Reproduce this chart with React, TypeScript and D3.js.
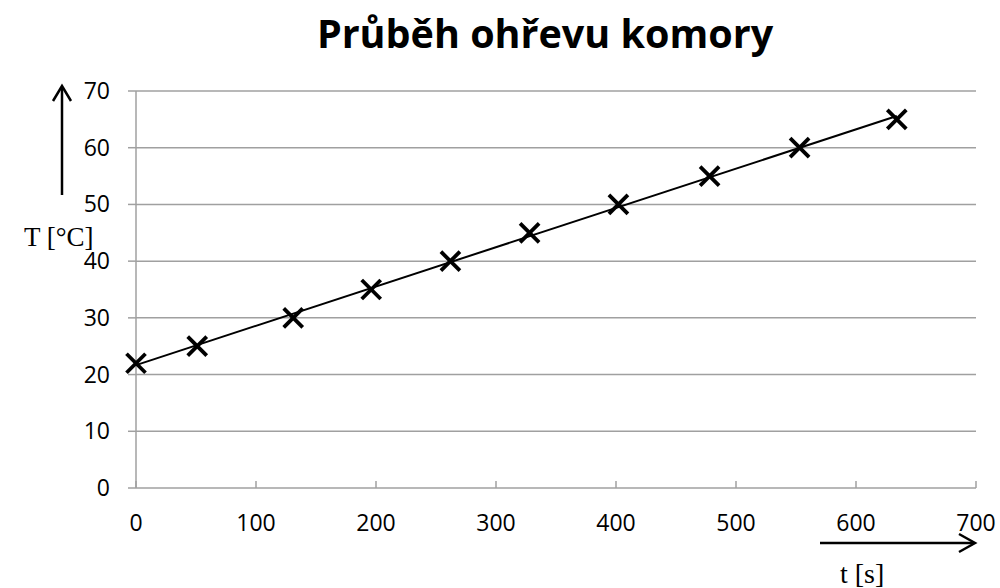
import React from "react";
import * as d3 from "d3";

const timeS = [0, 51, 131, 196, 262, 328, 402, 478, 553, 634];
const tempC = [22, 25, 30, 35, 40, 45, 50, 55, 60, 65];
const xTicks = [0, 100, 200, 300, 400, 500, 600, 700];
const yTicks = [0, 10, 20, 30, 40, 50, 60, 70];

export default function App() {
  const W = 1000, H = 588;
  const L = 136, R = 976, T = 91, B = 488;
  const x = d3.scaleLinear().domain([0, 700]).range([L, R]);
  const y = d3.scaleLinear().domain([0, 70]).range([B, T]);

  const n = timeS.length;
  const mx = d3.mean(timeS)!, my = d3.mean(tempC)!;
  let sxy = 0, sxx = 0;
  for (let i = 0; i < n; i++) { sxy += (timeS[i] - mx) * (tempC[i] - my); sxx += (timeS[i] - mx) ** 2; }
  const slope = sxy / sxx, icpt = my - slope * mx;
  const x0 = d3.min(timeS)!, x1 = d3.max(timeS)!;
  const trend = d3.line<number>().x(d => x(d)).y(d => y(icpt + slope * d))([x0, x1])!;

  const grid = "#a0a0a0";
  const lab = "'Open Sans', 'Liberation Sans', sans-serif";
  const s = 9.5;
  return (
    <svg width={W} height={H} style={{ position: "absolute", left: 0, top: 0, background: "#fff" }}>
      <text x={545} y={48} textAnchor="middle" fontFamily={lab} fontWeight="bold" fontSize={39.5} fill="#000">Průběh ohřevu komory</text>
      {yTicks.map(t => (
        <g key={t}>
          {t > 0 && <line x1={L} x2={R} y1={y(t)} y2={y(t)} stroke={grid} strokeWidth={1.5} />}
          <line x1={L - 8} x2={L} y1={y(t)} y2={y(t)} stroke={grid} strokeWidth={1.5} />
          <text x={110} y={y(t) + 8} textAnchor="end" fontFamily={lab} fontSize={23} fill="#000">{t}</text>
        </g>
      ))}
      <line x1={L} x2={R} y1={B} y2={B} stroke={grid} strokeWidth={1.5} />
      <line x1={L} x2={L} y1={T} y2={B} stroke={grid} strokeWidth={1.5} />
      {xTicks.map(t => (
        <g key={t}>
          <line x1={x(t)} x2={x(t)} y1={B - 7} y2={B} stroke={grid} strokeWidth={1.5} />
          <text x={x(t)} y={531} textAnchor="middle" fontFamily={lab} fontSize={23} fill="#000">{t}</text>
        </g>
      ))}
      <path d={trend} stroke="#000" strokeWidth={2} fill="none" />
      {timeS.map((t, i) => (
        <g key={i} stroke="#000" strokeWidth={3.8}>
          <line x1={x(t) - s} x2={x(t) + s} y1={y(tempC[i]) - s} y2={y(tempC[i]) + s} />
          <line x1={x(t) - s} x2={x(t) + s} y1={y(tempC[i]) + s} y2={y(tempC[i]) - s} />
        </g>
      ))}
      {/* y axis arrow */}
      <line x1={62} x2={62} y1={195} y2={87} stroke="#000" strokeWidth={2.5} />
      <polyline points="53,101 62,86 71,101" fill="none" stroke="#000" strokeWidth={2.5} />
      <text x={24} y={246} fontFamily="'Liberation Serif', 'Times New Roman', serif" fontSize={27} fill="#000">T [°C]</text>
      {/* x axis arrow */}
      <line x1={820} x2={974} y1={543} y2={543} stroke="#000" strokeWidth={2.5} />
      <polyline points="959,534 975,543 959,552" fill="none" stroke="#000" strokeWidth={2.5} />
      <text x={840} y={583} fontFamily="'Liberation Serif', 'Times New Roman', serif" fontSize={28} fill="#000">t [s]</text>
    </svg>
  );
}
